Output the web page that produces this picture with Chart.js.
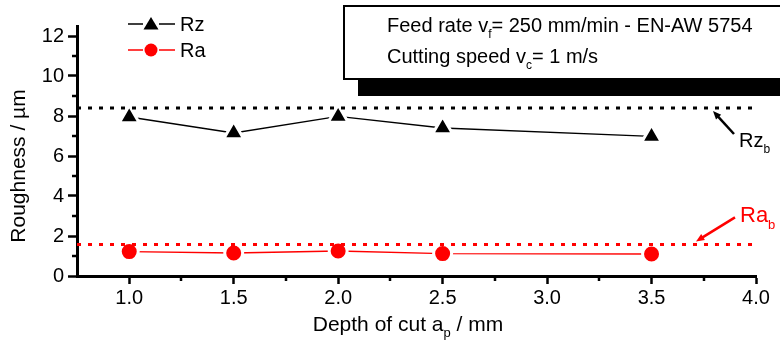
<!DOCTYPE html>
<html>
<head>
<meta charset="utf-8">
<script src="https://cdn.jsdelivr.net/npm/chart.js@4"></script>
<style>
  html, body { margin: 0; padding: 0; background: #fff; }
  #wrap { width: 780px; height: 344px; position: relative; }
</style>
</head>
<body>
<div id="wrap"><canvas id="chart"></canvas></div>
<script>
// data
const depth = [1.0, 1.5, 2.0, 2.5, 3.5];
const rzValues = [7.95, 7.15, 7.98, 7.4, 6.98];
const raValues = [1.22, 1.15, 1.25, 1.12, 1.1];
const rzBase = 8.4;
const raBase = 1.58;
const xRange = [0.75, 4.0];
const xTicks = [1.0, 1.5, 2.0, 2.5, 3.0, 3.5, 4.0];
const xMinor = [1.25, 1.75, 2.25, 2.75, 3.25, 3.75];
const yTicks = [0, 2, 4, 6, 8, 10, 12];
const yMinor = [1, 3, 5, 7, 9, 11];

const FONT = '"Liberation Sans", Arial, sans-serif';
const RED = '#ff0000';

const pts = (xs, ys) => xs.map((x, i) => ({ x, y: ys[i] }));

// draw text with a subscript part: [main, sub, rest]
function subText(ctx, x, y, parts, size, color) {
    ctx.fillStyle = color;
    ctx.textBaseline = 'alphabetic';
    ctx.textAlign = 'left';
    ctx.font = size + 'px ' + FONT;
    ctx.fillText(parts[0], x, y);
    x += ctx.measureText(parts[0]).width;
    ctx.font = Math.round(size * 0.6) + 'px ' + FONT;
    ctx.fillText(parts[1], x, y + size * 0.3);
    x += ctx.measureText(parts[1]).width;
    if (parts[2]) {
        ctx.font = size + 'px ' + FONT;
        ctx.fillText(parts[2], x, y);
        x += ctx.measureText(parts[2]).width;
    }
    return x;
}

function arrow(ctx, x1, y1, x2, y2, color) {
    const a = Math.atan2(y2 - y1, x2 - x1);
    const h = 9;
    ctx.strokeStyle = color;
    ctx.fillStyle = color;
    ctx.lineWidth = 2.5;
    ctx.beginPath();
    ctx.moveTo(x1, y1);
    ctx.lineTo(x2 - Math.cos(a) * h * 0.8, y2 - Math.sin(a) * h * 0.8);
    ctx.stroke();
    ctx.beginPath();
    ctx.moveTo(x2, y2);
    ctx.lineTo(x2 - h * Math.cos(a - 0.4), y2 - h * Math.sin(a - 0.4));
    ctx.lineTo(x2 - h * Math.cos(a + 0.4), y2 - h * Math.sin(a + 0.4));
    ctx.closePath();
    ctx.fill();
}

const decor = {
    id: 'decor',
    afterDraw(chart) {
        const ctx = chart.ctx;
        const xs = chart.scales.x, ys = chart.scales.y;
        const ca = chart.chartArea;
        ctx.save();

        // minor ticks
        ctx.strokeStyle = '#000';
        ctx.lineWidth = 2.5;
        xMinor.forEach(v => {
            const px = Math.round(xs.getPixelForValue(v));
            ctx.beginPath(); ctx.moveTo(px, ca.bottom); ctx.lineTo(px, ca.bottom + 5); ctx.stroke();
        });
        yMinor.forEach(v => {
            const py = Math.round(ys.getPixelForValue(v));
            ctx.beginPath(); ctx.moveTo(ca.left, py); ctx.lineTo(ca.left - 5, py); ctx.stroke();
        });

        // x axis title, centred
        const xParts = ['Depth of cut a', 'p', ' / mm'];
        ctx.font = '21px ' + FONT;
        const w1 = ctx.measureText(xParts[0]).width + ctx.measureText(xParts[2]).width;
        ctx.font = '13px ' + FONT;
        const totalW = w1 + ctx.measureText(xParts[1]).width;
        subText(ctx, 408 - totalW / 2, 331, xParts, 21, '#000');

        // y axis title
        ctx.save();
        ctx.translate(25, 166);
        ctx.rotate(-Math.PI / 2);
        ctx.font = '21px ' + FONT;
        ctx.fillStyle = '#000';
        ctx.textAlign = 'center';
        ctx.textBaseline = 'alphabetic';
        ctx.fillText('Roughness / \u00b5m', 0, 0);
        ctx.restore();

        // legend
        const leg = [
            { label: 'Rz', color: '#000', style: 'triangle', y: 24 },
            { label: 'Ra', color: RED, style: 'circle', y: 50 }
        ];
        leg.forEach(l => {
            ctx.strokeStyle = l.color;
            ctx.lineWidth = 1.5;
            ctx.beginPath(); ctx.moveTo(128, l.y); ctx.lineTo(143, l.y); ctx.moveTo(159, l.y); ctx.lineTo(175, l.y); ctx.stroke();
            ctx.fillStyle = l.color;
            ctx.beginPath();
            if (l.style === 'circle') {
                ctx.arc(151, l.y, 6.5, 0, Math.PI * 2);
            } else {
                ctx.moveTo(151, l.y - 7); ctx.lineTo(158.5, l.y + 5.5); ctx.lineTo(143.5, l.y + 5.5); ctx.closePath();
            }
            ctx.fill();
            ctx.fillStyle = '#000';
            ctx.font = '20px ' + FONT;
            ctx.textBaseline = 'middle';
            ctx.textAlign = 'left';
            ctx.fillText(l.label, 180, l.y + 1);
        });

        // info box with shadow
        ctx.fillStyle = '#000';
        ctx.fillRect(358, 79, 430, 17);
        ctx.fillStyle = '#fff';
        ctx.fillRect(343, 6, 440, 73);
        ctx.strokeStyle = '#000';
        ctx.lineWidth = 2;
        ctx.strokeRect(344, 6, 440, 73);
        subText(ctx, 387, 32, ['Feed rate v', 'f', '= 250 mm/min - EN-AW 5754'], 20, '#000');
        subText(ctx, 387, 63, ['Cutting speed v', 'c', '= 1 m/s'], 20, '#000');

        // baseline annotations
        const rzY = ys.getPixelForValue(rzBase);
        const raY = ys.getPixelForValue(raBase);
        arrow(ctx, 734, rzY + 26, 713, rzY + 3, '#000');
        subText(ctx, 739, 147, ['Rz', 'b', ''], 20, '#000');
        arrow(ctx, 735, raY - 27, 696, raY - 3, RED);
        subText(ctx, 740, 222, ['Ra', 'b', ''], 22, RED);

        ctx.restore();
    }
};

const tickFont = { family: FONT, size: 20 };

new Chart(document.getElementById('chart'), {
    type: 'line',
    data: {
        datasets: [
            {
                label: 'Rz_b',
                data: pts(xRange, [rzBase, rzBase]),
                borderColor: '#000',
                borderWidth: 3,
                borderDash: [4, 7],
                pointRadius: 0
            },
            {
                label: 'Ra_b',
                data: pts(xRange, [raBase, raBase]),
                borderColor: RED,
                borderWidth: 3,
                borderDash: [4, 7],
                pointRadius: 0
            },
            {
                label: 'Rz',
                data: pts(depth, rzValues),
                borderColor: '#000',
                borderWidth: 1.3,
                pointStyle: 'triangle',
                pointRadius: 11.5,
                pointBackgroundColor: '#000',
                pointBorderColor: '#fff',
                pointBorderWidth: 3
            },
            {
                label: 'Ra',
                data: pts(depth, raValues),
                borderColor: RED,
                borderWidth: 1.3,
                pointStyle: 'circle',
                pointRadius: 9,
                pointBackgroundColor: RED,
                pointBorderColor: '#fff',
                pointBorderWidth: 3
            }
        ]
    },
    options: {
        responsive: true,
        maintainAspectRatio: false,
        animation: false,
        layout: { padding: { left: 0, top: 26, right: 24, bottom: 0 } },
        plugins: { legend: { display: false }, tooltip: { enabled: false } },
        scales: {
            x: {
                type: 'linear',
                min: xRange[0],
                max: xRange[1],
                afterBuildTicks: s => { s.ticks = xTicks.map(v => ({ value: v })); },
                afterFit: s => { s.height = 68; },
                ticks: { font: tickFont, color: '#000', padding: 2, callback: v => Number(v).toFixed(1) },
                grid: { drawOnChartArea: false, tickLength: 8, tickWidth: 2.5, tickColor: '#000' },
                border: { color: '#000', width: 3 }
            },
            y: {
                min: 0,
                max: 12.5,
                afterBuildTicks: s => { s.ticks = yTicks.map(v => ({ value: v })); },
                afterFit: s => { s.width = 77; },
                ticks: { font: tickFont, color: '#000', padding: 4 },
                grid: { drawOnChartArea: false, tickLength: 9, tickWidth: 2.5, tickColor: '#000' },
                border: { color: '#000', width: 3 }
            }
        }
    },
    plugins: [decor]
});
</script>
</body>
</html>
